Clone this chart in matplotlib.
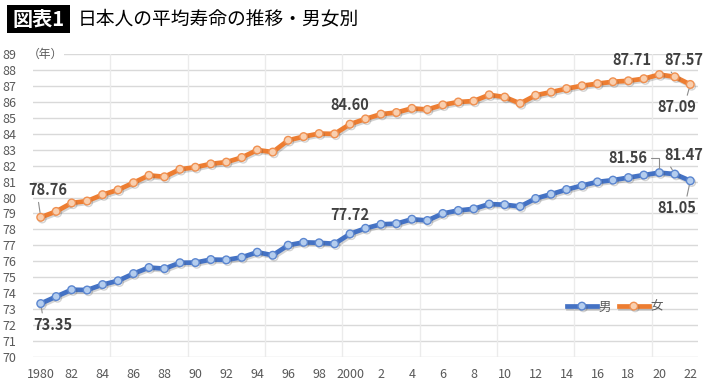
import matplotlib
matplotlib.use("Agg")
import matplotlib.pyplot as plt
from matplotlib.patches import Rectangle
import matplotlib.patheffects as pe

plt.rcParams['font.family'] = ['Noto Sans CJK JP', 'DejaVu Sans']

years = list(range(1980, 2023))
male = [73.35, 73.79, 74.22, 74.20, 74.54, 74.78, 75.23, 75.61, 75.54, 75.91,
        75.92, 76.11, 76.09, 76.25, 76.57, 76.38, 77.01, 77.19, 77.16, 77.10,
        77.72, 78.07, 78.32, 78.36, 78.64, 78.56, 79.00, 79.19, 79.29, 79.59,
        79.55, 79.44, 79.94, 80.21, 80.50, 80.75, 80.98, 81.09, 81.25, 81.41,
        81.56, 81.47, 81.05]
female = [78.76, 79.13, 79.66, 79.78, 80.18, 80.48, 80.93, 81.39, 81.30, 81.77,
          81.90, 82.11, 82.22, 82.51, 82.98, 82.85, 83.59, 83.82, 84.01, 83.99,
          84.60, 84.93, 85.23, 85.33, 85.59, 85.52, 85.81, 85.99, 86.05, 86.44,
          86.30, 85.90, 86.41, 86.61, 86.83, 87.01, 87.14, 87.26, 87.32, 87.45,
          87.71, 87.57, 87.09]
xtick_years = list(range(1980, 2023, 2))
xtick_labels = ["1980", "82", "84", "86", "88", "90", "92", "94", "96", "98",
                "2000", "2", "4", "6", "8", "10", "12", "14", "16", "18", "20", "22"]
ytick_vals = list(range(70, 90))
series_names = ["男", "女"]
title = "日本人の平均寿命の推移・男女別"
badge = "図表1"

BLUE = "#4472C4"
ORANGE = "#ED7D31"
GRID = "#D9D9D9"
TICKC = "#595959"
LABC = "#404040"

W, H = 710, 386
fig = plt.figure(figsize=(W / 100, H / 100), dpi=100)

def fx(px):
    return px / W

def fy(py):
    return 1 - py / H

ax = fig.add_axes([fx(33), fy(357), fx(698) - fx(33), fy(54) - fy(357)])
ax.set_xlim(1979.5, 2022.5)
ax.set_ylim(70, 89)

# grid
for v in ytick_vals:
    ax.axhline(v, color=GRID, lw=1.0, zorder=0)
for gx in range(1984, 2022, 5):
    ax.axvline(gx + 0.5, color="#EBEBEB", lw=1.0, zorder=0)

for s in ax.spines.values():
    s.set_visible(False)

ax.set_yticks(ytick_vals)
ax.set_yticklabels([str(v) for v in ytick_vals])
ax.set_xticks(xtick_years)
ax.set_xticklabels(xtick_labels)
ax.tick_params(axis='both', length=0, labelsize=9, colors=TICKC)
ax.tick_params(axis='y', pad=12)
ax.tick_params(axis='x', pad=8)

shadow = [pe.SimpleLineShadow(offset=(1.0, -1.2), alpha=0.25, shadow_color="#555555"), pe.Normal()]

lm, = ax.plot(years, male, color=BLUE, lw=3.4, marker='o', markersize=5.5,
              markerfacecolor="#B4CDEE", markeredgecolor="#5B86D0", markeredgewidth=1.0,
              label=series_names[0], zorder=3, path_effects=shadow)
lf, = ax.plot(years, female, color=ORANGE, lw=3.4, marker='o', markersize=5.5,
              markerfacecolor="#F9CFAF", markeredgecolor="#F09050", markeredgewidth=1.0,
              label=series_names[1], zorder=3, path_effects=shadow)

# (年) label next to 89
ax.text(-0.008, 89, "（年）", transform=ax.get_yaxis_transform(), ha='left', va='center',
        fontsize=8.5, color=TICKC, zorder=5,
        bbox=dict(facecolor='white', edgecolor='none', pad=0.5))

def label(series, year, text, dx, dy, relpos=None, conn="arc3"):
    i = years.index(year)
    kw = dict(textcoords='offset points', xytext=(dx, dy), ha='center', va='center',
              fontsize=10.5, fontweight='bold', color=LABC, zorder=6)
    if relpos is not None:
        kw['arrowprops'] = dict(arrowstyle='-', color='#8C8C8C', lw=0.8,
                                shrinkA=1, shrinkB=3.5, relpos=relpos,
                                connectionstyle=conn)
    ax.annotate(text, (year, series[i]), **kw)

label(female, 1980, "78.76", 5, 19.5, relpos=(0.25, 0.0))
label(male, 1980, "73.35", 8.6, -15.5, relpos=(0.25, 1.0))
label(female, 2000, "84.60", 0, 13.7)
label(male, 2000, "77.72", 0, 13.7)
label(female, 2020, "87.71", -20, 10.5)
label(female, 2021, "87.57", 6.5, 12, relpos=(0.1, 0.0))
label(female, 2022, "87.09", -10, -16.5, relpos=(0.75, 1.0))
label(male, 2020, "81.56", -23, 10.6, relpos=(1.05, 0.5),
      conn="angle,angleA=0,angleB=90,rad=0")
label(male, 2021, "81.47", 6.5, 13.7, relpos=(0.1, 0.0))
label(male, 2022, "81.05", -10, -19.8, relpos=(0.75, 1.0))

leg = fig.legend(handles=[lm, lf], loc='center', bbox_to_anchor=(fx(615), fy(307)),
                 ncol=2, frameon=False, fontsize=9, handlelength=2.4,
                 handletextpad=0.15, columnspacing=0.6, labelcolor=TICKC)

# title badge
fig.patches.append(Rectangle((fx(7), fy(33)), fx(70) - fx(7), fy(5) - fy(33),
                             transform=fig.transFigure, facecolor='black',
                             edgecolor='none'))
fig.text(fx(38.5), fy(19), badge, ha='center', va='center', color='white',
         fontsize=14.5, fontweight='bold')
fig.text(fx(78), fy(19), title, ha='left', va='center', color='black', fontsize=13.5)

fig.savefig("out.png", dpi=100, facecolor='white')
